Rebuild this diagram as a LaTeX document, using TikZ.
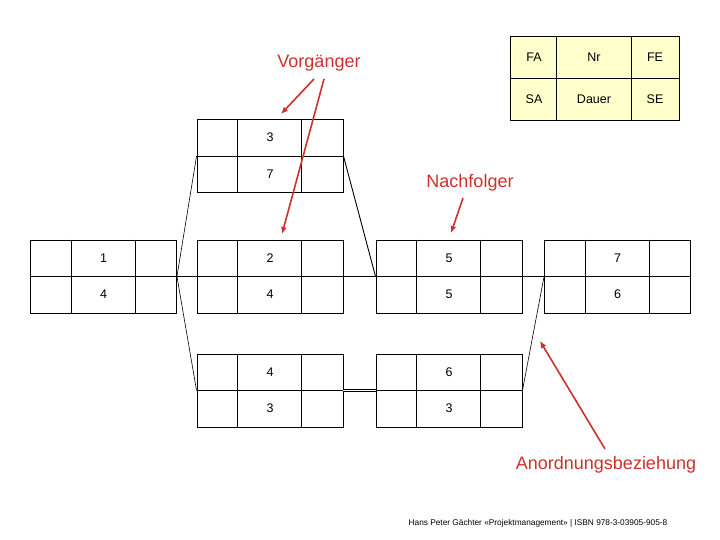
\documentclass[tikz,border=0pt]{standalone}
\usepackage{fontspec}
\setmainfont{Liberation Sans}
\usetikzlibrary{arrows.meta}

\definecolor{hinweis}{RGB}{204,50,44}
\definecolor{legende}{RGB}{255,255,204}

\tikzset{
  vbox/.style={draw, line width=0.9pt, minimum width=146pt, minimum height=73pt, inner sep=0pt},
  zahl/.style={font=\fontsize{12.5}{14}\selectfont, inner sep=0pt},
  folge/.style={line width=0.6pt},
  hinweistext/.style={hinweis, font=\fontsize{18}{20}\selectfont, inner sep=0pt},
  zeiger/.style={hinweis, line width=1.6pt, -{Latex[length=7pt,width=6pt]}}
}

% one activity box: name, x, y, upper number, lower number
\newcommand{\vorgang}[5]{%
  \node[vbox] (#1) at (#2,#3) {};
  \draw[line width=0.9pt] (#1.west) -- (#1.east);
  \draw[line width=0.9pt] ([xshift=41pt]#1.north west) -- ([xshift=41pt]#1.south west);
  \draw[line width=0.9pt] ([xshift=-42pt]#1.north east) -- ([xshift=-42pt]#1.south east);
  \node[zahl] (#1-oben) at ([yshift=18.5pt]#1.center) {#4};
  \node[zahl] (#1-unten) at ([yshift=-18pt]#1.center) {#5};
}

\begin{document}
\begin{tikzpicture}[x=1pt, y=-1pt]
  \useasboundingbox (0,0) rectangle (720,540);

  % legend
  \node[vbox, fill=legende, minimum width=169pt, minimum height=84pt] (leg) at (594.5,78) {};
  \draw[line width=0.9pt] (leg.west) -- (leg.east);
  \draw[line width=0.9pt] ([xshift=47pt]leg.north west) -- ([xshift=47pt]leg.south west);
  \draw[line width=0.9pt] ([xshift=-48pt]leg.north east) -- ([xshift=-48pt]leg.south east);
  \node[zahl] (leg-fa) at (534,57) {FA};
  \node[zahl] (leg-nr) at (594,57) {Nr};
  \node[zahl] (leg-fe) at (655,57) {FE};
  \node[zahl] (leg-sa) at (534,99) {SA};
  \node[zahl] (leg-dauer) at (594,99) {Dauer};
  \node[zahl] (leg-se) at (655,99) {SE};

  % activities
  \vorgang{v3}{270}{156}{3}{7}
  \vorgang{v1}{103.5}{276.5}{1}{4}
  \vorgang{v2}{270}{276.5}{2}{4}
  \vorgang{v5}{449}{276.5}{5}{5}
  \vorgang{v7}{617.5}{276.5}{7}{6}
  \vorgang{v4}{270}{390.5}{4}{3}
  \vorgang{v6}{449}{390.5}{6}{3}

  % dependencies
  \draw[folge] (v1.east) -- (v2.west);
  \draw[folge] (v2.east) -- (v5.west);
  \draw[folge] (v5.east) -- (v7.west);
  \draw[folge] (v1.east) -- (v3.west);
  \draw[folge, line width=0.9pt] (v3.east) -- (v5.west);
  \draw[folge] (v1.east) -- (v4.west);
  \draw[line width=0.4pt, double, double distance=1.4pt] (v4.east) -- (v6.west);
  \draw[folge] (v6.east) -- (v7.west);

  % red labels
  \node[hinweistext] (vorg) at (319,63) {Vorgänger};
  \node[hinweistext] (nachf) at (470,183) {Nachfolger};
  \node[hinweistext] (anord) at (606,465) {Anordnungsbeziehung};

  \coordinate (vorg-a) at (314,79);
  \coordinate (vorg-b) at (324,79);
  \coordinate (nachf-a) at (463,198);
  \coordinate (anord-a) at (605,449);
  \coordinate (ziel-oben) at (281,114);
  \coordinate (ziel-mitte) at (282,234);
  \coordinate (ziel-nachf) at (451,233);
  \coordinate (ziel-anord) at (540,341);

  \draw[zeiger] (vorg-a) -- (ziel-oben);
  \draw[zeiger] (vorg-b) -- (ziel-mitte);
  \draw[zeiger] (nachf-a) -- (ziel-nachf);
  \draw[zeiger] (anord-a) -- (ziel-anord);

  % source line
  \node[font=\fontsize{8.3}{9}\selectfont, inner sep=0pt] (quelle) at (538,523) {Hans Peter Gächter «Projektmanagement» | ISBN 978-3-03905-905-8};
\end{tikzpicture}
\end{document}
